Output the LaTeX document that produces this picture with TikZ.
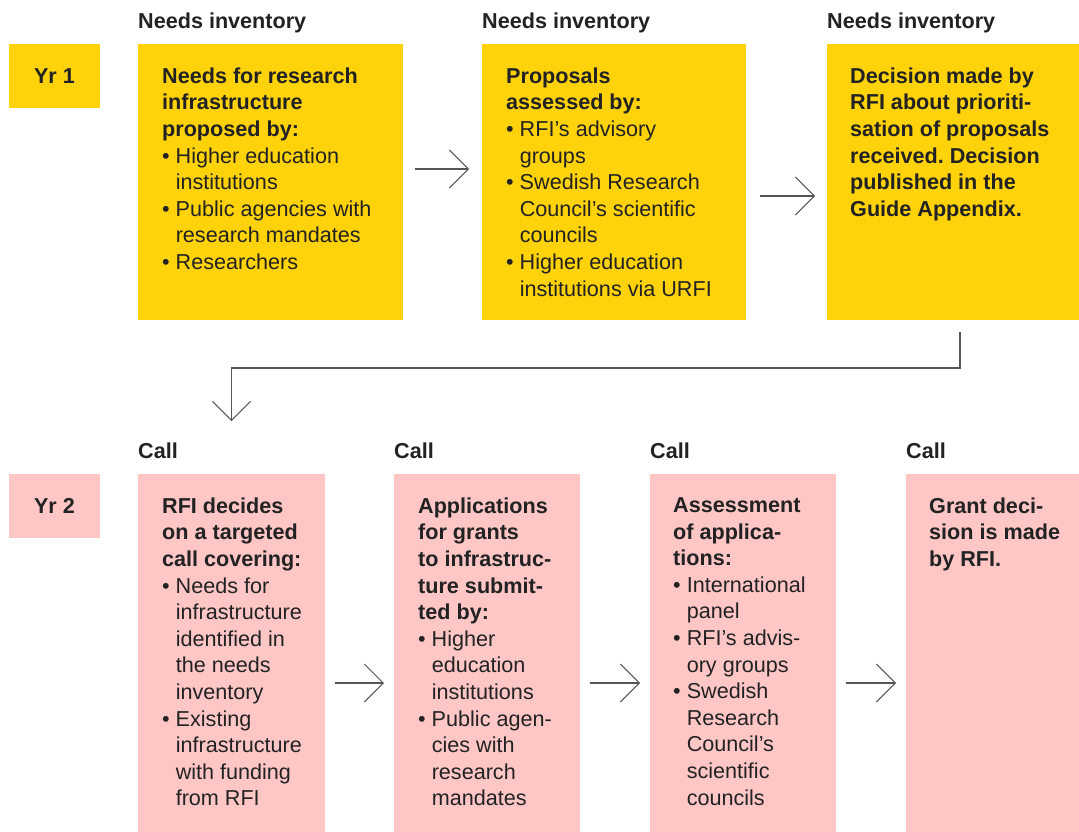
\documentclass[tikz,border=0pt]{standalone}
\usepackage{fontspec}
\setmainfont{Liberation Sans}
\frenchspacing
\usetikzlibrary{arrows.meta,calc}
\definecolor{gelb}{HTML}{FFD20A}
\definecolor{rosa}{HTML}{FFC6C6}
\definecolor{schrift}{HTML}{222222}
\definecolor{linie}{HTML}{555555}
\tikzset{
  feld/.style={anchor=north west,inner sep=0pt,outer sep=0pt},
  gfeld/.style={feld,fill=gelb},
  rfeld/.style={feld,fill=rosa},
  txt/.style={anchor=north west,inner sep=0pt,align=left,text=schrift,font=\fontsize{21.6}{26.6}\selectfont,execute at begin node=\strut},
  kopf/.style={anchor=base west,inner sep=0pt,text=schrift,font=\fontsize{21.6}{26.6}\selectfont\bfseries},
  pf/.style={-{Straight Barb[length=19pt,width=38pt,line width=1pt]},linie,line width=1.3pt},
}
\newcommand{\bul}{\textbullet\ }
\newcommand{\einz}{\phantom{\textbullet\ }}

\begin{document}
\begin{tikzpicture}[x=1pt,y=-1pt]
  \useasboundingbox (0,0) rectangle (1079,832);
  % Jahr 1
  \node[gfeld,minimum width=91pt,minimum height=64pt] (j1) at (9,44) {};
  \node[kopf,anchor=center] (j1t) at (j1.center) {Yr 1};
  \node[kopf] (k1) at (138,28.5) {Needs inventory};
  \node[kopf] (k2) at (482,28.5) {Needs inventory};
  \node[kopf] (k3) at (827,28.5) {Needs inventory};
  \node[gfeld,minimum width=265pt,minimum height=276pt] (b1) at (138,44) {};
  \node[gfeld,minimum width=264pt,minimum height=276pt] (b2) at (482,44) {};
  \node[gfeld,minimum width=252pt,minimum height=276pt] (b3) at (827,44) {};
  \node[txt] (t1) at ($(b1.north west)+(24,23.4)$) {\textbf{Needs for research}\\\textbf{infrastructure}\\\textbf{proposed by:}\\
    \bul Higher education\\\einz institutions\\\bul Public agencies with\\\einz research mandates\\\bul Researchers};
  \node[txt] (t2) at ($(b2.north west)+(24,23.4)$) {\textbf{Proposals}\\\textbf{assessed by:}\\
    \bul RFI’s advisory\\\einz groups\\\bul Swedish Research\\\einz Council’s scientific\\\einz councils\\\bul Higher education\\\einz institutions via URFI};
  \node[txt] (t3) at ($(b3.north west)+(23,23.4)$) {\textbf{Decision made by}\\\textbf{RFI about prioriti-}\\\textbf{sation of proposals}\\\textbf{received. Decision}\\\textbf{published in the}\\\textbf{Guide Appendix.}};
  \draw[pf] ([xshift=12pt,yshift=-125pt]b1.north east) -- ([xshift=-13pt,yshift=-125pt]b2.north west);
  \draw[pf] ([xshift=14pt,yshift=-152pt]b2.north east) -- ([xshift=-12pt,yshift=-152pt]b3.north west);
  % Jahr 2
  \node[rfeld,minimum width=91pt,minimum height=64pt] (j2) at (9,474) {};
  \node[kopf,anchor=center] (j2t) at (j2.center) {Yr 2};
  \node[kopf] (k4) at (138,458.5) {Call};
  \node[kopf] (k5) at (394,458.5) {Call};
  \node[kopf] (k6) at (650,458.5) {Call};
  \node[kopf] (k7) at (906,458.5) {Call};
  \node[rfeld,minimum width=187pt,minimum height=358pt] (c1) at (138,474) {};
  \node[rfeld,minimum width=186pt,minimum height=358pt] (c2) at (394,474) {};
  \node[rfeld,minimum width=186pt,minimum height=358pt] (c3) at (650,474) {};
  \node[rfeld,minimum width=173pt,minimum height=358pt] (c4) at (906,474) {};
  \node[txt] (s1) at ($(c1.north west)+(24,23.4)$) {\textbf{RFI decides}\\\textbf{on a targeted}\\\textbf{call covering:}\\
    \bul Needs for\\\einz infrastructure\\\einz identified in\\\einz the needs\\\einz inventory\\\bul Existing\\\einz infrastructure\\\einz with funding\\\einz from RFI};
  \node[txt] (s2) at ($(c2.north west)+(24,23.4)$) {\textbf{Applications}\\\textbf{for grants}\\\textbf{to infrastruc-}\\\textbf{ture submit-}\\\textbf{ted by:}\\
    \bul Higher\\\einz education\\\einz institutions\\\bul Public agen-\\\einz cies with\\\einz research\\\einz mandates};
  \node[txt] (s3) at ($(c3.north west)+(23,23.4)$) {\textbf{Assessment}\\\textbf{of applica-}\\\textbf{tions:}\\
    \bul International\\\einz panel\\\bul RFI’s advis-\\\einz ory groups\\\bul Swedish\\\einz Research\\\einz Council’s\\\einz scientific\\\einz councils};
  \node[txt] (s4) at ($(c4.north west)+(23,23.4)$) {\textbf{Grant deci-}\\\textbf{sion is made}\\\textbf{by RFI.}};
  \draw[pf] ([xshift=10pt,yshift=-209pt]c1.north east) -- ([xshift=-10pt,yshift=-209pt]c2.north west);
  \draw[pf] ([xshift=10pt,yshift=-209pt]c2.north east) -- ([xshift=-10pt,yshift=-209pt]c3.north west);
  \draw[pf] ([xshift=10pt,yshift=-209pt]c3.north east) -- ([xshift=-10pt,yshift=-209pt]c4.north west);
  % Uebergang
  \draw[pf] ([xshift=7pt,yshift=-12pt]b3.south) -- ++(0,36) -| ([yshift=53pt]c1.north);
\end{tikzpicture}
\end{document}
